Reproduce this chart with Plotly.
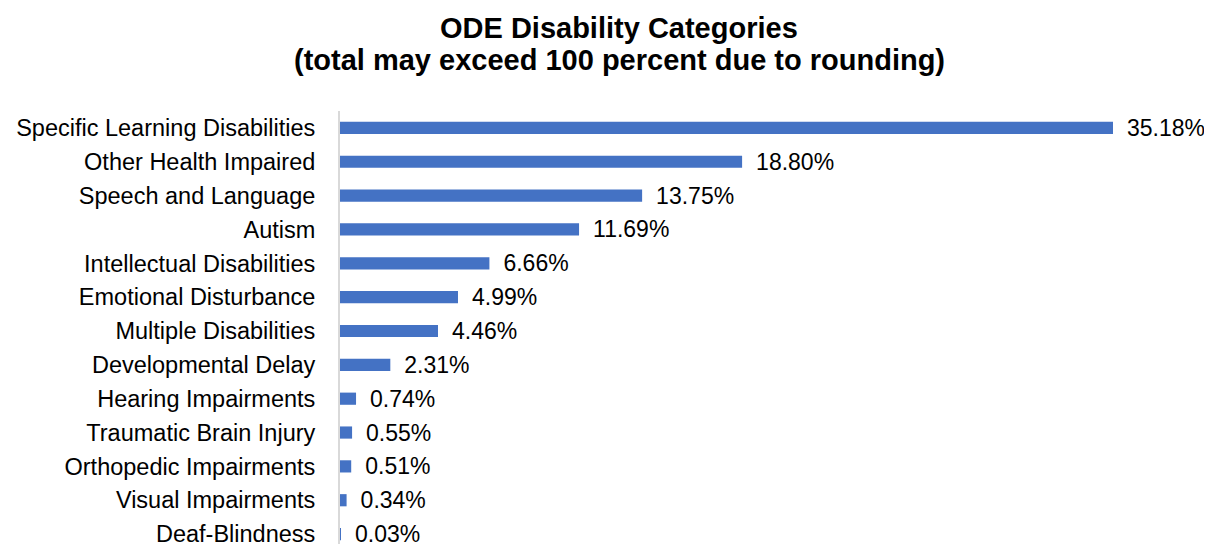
import plotly.graph_objects as go

categories = [
    "Specific Learning Disabilities", "Other Health Impaired", "Speech and Language",
    "Autism", "Intellectual Disabilities", "Emotional Disturbance",
    "Multiple Disabilities", "Developmental Delay", "Hearing Impairments",
    "Traumatic Brain Injury", "Orthopedic Impairments", "Visual Impairments",
    "Deaf-Blindness",
]
# bar lengths as drawn in the picture
bar_values = [35.18, 18.30, 13.75, 10.88, 6.80, 5.37, 4.46, 2.29, 0.73, 0.55, 0.51, 0.30, 0.03]
# data labels as printed in the picture
labels = ["35.18%", "18.80%", "13.75%", "11.69%", "6.66%", "4.99%", "4.46%",
          "2.31%", "0.74%", "0.55%", "0.51%", "0.34%", "0.03%"]
title_lines = ["ODE Disability Categories", "(total may exceed 100 percent due to rounding)"]

FONT = "Liberation Sans, Arial"

fig = go.Figure(go.Bar(
    y=categories, x=bar_values, orientation="h",
    marker=dict(color="#4472C4", line=dict(width=0)),
    width=0.36,
    text=["\u00a0\u2009" + t for t in labels],
    textposition="outside",
    constraintext="none",
    textfont=dict(family=FONT, size=23, color="#000000"),
    cliponaxis=False,
))

fig.update_layout(
    width=1212, height=544,
    margin=dict(l=332, r=107, t=103, b=1),
    paper_bgcolor="white", plot_bgcolor="white",
    font=dict(family=FONT, size=23.5, color="#000000"),
    showlegend=False,
    xaxis=dict(range=[0, 35.18], visible=False, showgrid=False, zeroline=False),
    yaxis=dict(
        categoryorder="array", categoryarray=categories,
        range=[12.5, -0.5],
        showline=True, linecolor="#D9D9D9", linewidth=2,
        ticks="", ticklabelstandoff=18, showgrid=False, automargin=False,
        tickfont=dict(family=FONT, size=23.5, color="#000000"),
    ),
    annotations=[
        dict(text=f"<b>{title_lines[0]}</b>", xref="paper", yref="paper",
             x=0.361, y=1.1886, xanchor="center", yanchor="middle", showarrow=False,
             font=dict(family=FONT, size=29, color="#000000")),
        dict(text=f"<b>{title_lines[1]}</b>", xref="paper", yref="paper",
             x=0.361, y=1.1159, xanchor="center", yanchor="middle", showarrow=False,
             font=dict(family=FONT, size=29, color="#000000")),
    ],
)

fig.write_html("out.html")
